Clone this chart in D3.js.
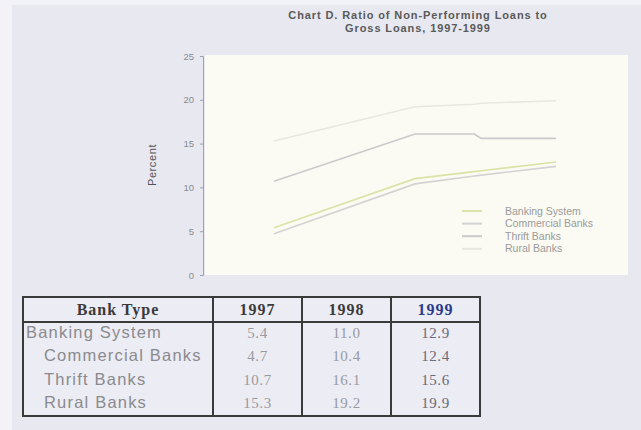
<!DOCTYPE html>
<html><head><meta charset="utf-8">
<script src="https://cdn.jsdelivr.net/npm/d3@7"></script>
<style>
html,body{margin:0;padding:0;background:#f3f3f7;}
svg{display:block;}
</style></head>
<body>
<svg id="c" width="641" height="430"></svg>
<script>
// ---- data ----
const titleLines = ["Chart D. Ratio of Non-Performing Loans to", "Gross Loans, 1997-1999"];
const seriesNames = ["Banking System", "Commercial Banks", "Thrift Banks", "Rural Banks"];
const periods = [1997, 1998, 1998.42, 1998.47, 1999];
const bankingSystem = [5.4, 11.0, 11.8, 11.9, 12.9];
const commercialBanks = [4.7, 10.4, 11.3, 11.4, 12.4];
const thriftBanks = [10.7, 16.1, 16.1, 15.6, 15.6];
const ruralBanks = [15.3, 19.2, 19.5, 19.6, 19.9];
const yTicks = [0, 5, 10, 15, 20, 25];
const seriesColors = ["#dbe3a6", "#d3d3d3", "#cacaca", "#e8e8df"];

const tableHeader = ["Bank Type", "1997", "1998", "1999"];
const tableNames = ["Banking System", "Commercial Banks", "Thrift Banks", "Rural Banks"];
const table1997 = ["5.4", "4.7", "10.7", "15.3"];
const table1998 = ["11.0", "10.4", "16.1", "19.2"];
const table1999 = ["12.9", "12.4", "15.6", "19.9"];

// ---- drawing ----
const svg = d3.select("#c");
svg.append("rect").attr("x", 12).attr("y", 5).attr("width", 629).attr("height", 425).attr("fill", "#e8e8f0");

const plot = {l: 205, r: 628, t: 55, b: 275};
svg.append("rect").attr("x", plot.l).attr("y", plot.t).attr("width", plot.r - plot.l).attr("height", plot.b - plot.t).attr("fill", "#fbfbf3");

const x = d3.scaleLinear().domain([1997, 1999]).range([274, 556]);
const y = d3.scaleLinear().domain([0, 25]).range([275, 56]);

// title
svg.append("g").selectAll("text").data(titleLines).join("text")
  .attr("x", 418).attr("y", (d, i) => 19 + i * 13)
  .attr("text-anchor", "middle")
  .attr("font-family", "Liberation Sans, Arial, sans-serif")
  .attr("font-size", 11).attr("font-weight", "bold").attr("fill", "#5a5a5a")
  .attr("letter-spacing", 0.9)
  .text(d => d);

// y axis
const yAxis = d3.axisLeft(y).tickValues(yTicks).tickSize(3).tickPadding(6);
const ga = svg.append("g").attr("transform", "translate(203,0)").call(yAxis);
ga.selectAll("path,line").attr("stroke", "#a0a0a8");
ga.selectAll("text").attr("fill", "#8a8a90").attr("font-size", 9.5).attr("font-family", "Liberation Sans, Arial, sans-serif");

svg.append("text").attr("transform", "translate(156,165) rotate(-90)")
  .attr("text-anchor", "middle").attr("font-size", 11).attr("letter-spacing", 0.6)
  .attr("font-family", "Liberation Sans, Arial, sans-serif").attr("fill", "#555")
  .text("Percent");

// lines
const allSeries = [bankingSystem, commercialBanks, thriftBanks, ruralBanks];
const line = d3.line().x((d, i) => x(periods[i])).y(d => y(d));
svg.append("g").selectAll("path").data(allSeries).join("path")
  .attr("d", d => line(d)).attr("fill", "none")
  .attr("stroke", (d, i) => seriesColors[i]).attr("stroke-width", 1.6);

// legend
const lg = svg.append("g").selectAll("g").data(seriesNames).join("g")
  .attr("transform", (d, i) => `translate(462,${211 + i * 12.6})`);
lg.append("line").attr("x1", 0).attr("x2", 20).attr("stroke", (d, i) => seriesColors[i]).attr("stroke-width", 2);
lg.append("text").attr("x", 43).attr("y", 3.5).attr("font-size", 10.5)
  .attr("font-family", "Liberation Sans, Arial, sans-serif").attr("fill", "#9a9a9a")
  .text(d => d);

// table
const colX = [23, 213, 302, 391, 480];
const tTop = 297, tHead = 322, tBot = 416;
const tg = svg.append("g");
tg.append("rect").attr("x", colX[0]).attr("y", tTop).attr("width", colX[4] - colX[0]).attr("height", tBot - tTop)
  .attr("fill", "#ececf4").attr("stroke", "#3a3a3a").attr("stroke-width", 2);
tg.selectAll("line.v").data(colX.slice(1, 4)).join("line").attr("class", "v")
  .attr("x1", d => d).attr("x2", d => d).attr("y1", tTop).attr("y2", tBot)
  .attr("stroke", "#3a3a3a").attr("stroke-width", 2);
tg.append("line").attr("x1", colX[0]).attr("x2", colX[4]).attr("y1", tHead).attr("y2", tHead)
  .attr("stroke", "#3a3a3a").attr("stroke-width", 2);

tg.selectAll("text.h").data(tableHeader).join("text").attr("class", "h")
  .attr("x", (d, i) => (colX[i] + colX[i + 1]) / 2).attr("y", 315)
  .attr("text-anchor", "middle").attr("font-family", "Liberation Serif, Times New Roman, serif")
  .attr("font-size", 16).attr("font-weight", "bold").attr("letter-spacing", 1)
  .attr("fill", (d, i) => i === 3 ? "#2b3a8c" : "#3a3a3a")
  .text(d => d);

const rowY = [338, 361, 385, 408];
tg.selectAll("text.n").data(tableNames).join("text").attr("class", "n")
  .attr("x", (d, i) => i === 0 ? 26 : 44).attr("y", (d, i) => rowY[i])
  .attr("font-family", "Liberation Sans, Arial, sans-serif").attr("font-size", 16.5)
  .attr("letter-spacing", 1.2)
  .attr("fill", "#8a8a8e").text(d => d);

[table1997, table1998, table1999].forEach((col, ci) => {
  tg.selectAll("text.c" + ci).data(col).join("text").attr("class", "c" + ci)
    .attr("x", (colX[ci + 1] + colX[ci + 2]) / 2).attr("y", (d, i) => rowY[i])
    .attr("text-anchor", "middle").attr("font-family", "Liberation Serif, Times New Roman, serif")
    .attr("font-size", 15).attr("letter-spacing", 0.6)
    .attr("fill", ci === 2 ? "#6a6a78" : "#9a9a9e").text(d => d);
});
</script>
</body></html>
